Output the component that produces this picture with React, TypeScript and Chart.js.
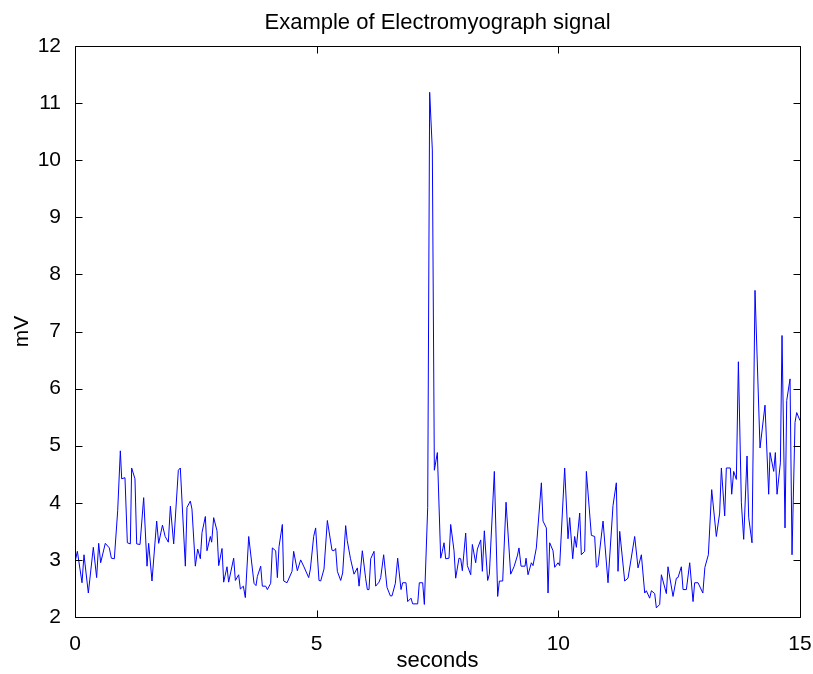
import React, { useEffect, useRef } from "react";
import { Chart, registerables } from "chart.js";

Chart.register(...registerables);

const TITLE = "Example of Electromyograph signal";
const X_LABEL = "seconds";
const Y_LABEL = "mV";
const X_TICKS = [0, 5, 10, 15];
const Y_TICKS = [2, 3, 4, 5, 6, 7, 8, 9, 10, 11, 12];

const TIMES = [
  0.0, 0.049, 0.145, 0.186, 0.276, 0.379, 0.448, 0.49, 0.531, 0.627, 0.71, 0.752, 0.814, 0.883, 0.938, 0.966,
  1.034, 1.083, 1.145, 1.172, 1.241, 1.276, 1.345, 1.421, 1.49, 1.524, 1.593, 1.69, 1.731, 1.81, 1.865, 1.931,
  1.973, 2.042, 2.138, 2.179, 2.283, 2.317, 2.386, 2.42, 2.49, 2.538, 2.593, 2.628, 2.697, 2.731, 2.8, 2.828,
  2.869, 2.938, 2.973, 3.042, 3.076, 3.145, 3.179, 3.283, 3.318, 3.386, 3.421, 3.483, 3.524, 3.594, 3.704, 3.745,
  3.773, 3.842, 3.876, 3.945, 3.98, 4.049, 4.083, 4.152, 4.187, 4.221, 4.29, 4.318, 4.387, 4.49, 4.524, 4.6,
  4.669, 4.731, 4.835, 4.87, 4.938, 4.979, 5.048, 5.083, 5.152, 5.221, 5.317, 5.359, 5.393, 5.428, 5.497, 5.538,
  5.6, 5.632, 5.7, 5.773, 5.842, 5.877, 5.945, 6.014, 6.049, 6.083, 6.118, 6.187, 6.221, 6.29, 6.325, 6.386,
  6.455, 6.524, 6.559, 6.628, 6.676, 6.745, 6.779, 6.848, 6.883, 6.952, 6.986, 7.09, 7.124, 7.193, 7.228, 7.297,
  7.338, 7.393, 7.435, 7.497, 7.566, 7.6, 7.635, 7.669, 7.738, 7.773, 7.842, 7.876, 7.945, 7.98, 8.014, 8.083,
  8.118, 8.187, 8.221, 8.29, 8.325, 8.394, 8.428, 8.469, 8.538, 8.573, 8.676, 8.745, 8.78, 8.849, 8.918, 9.014,
  9.083, 9.152, 9.186, 9.228, 9.311, 9.332, 9.373, 9.442, 9.476, 9.545, 9.649, 9.683, 9.752, 9.787, 9.821, 9.89,
  9.925, 9.994, 10.028, 10.131, 10.2, 10.235, 10.297, 10.338, 10.373, 10.442, 10.476, 10.545, 10.58, 10.683, 10.752, 10.787,
  10.821, 10.925, 11.028, 11.131, 11.2, 11.235, 11.27, 11.373, 11.442, 11.58, 11.649, 11.718, 11.787, 11.821, 11.89, 11.925,
  11.994, 12.028, 12.097, 12.132, 12.235, 12.269, 12.373, 12.442, 12.476, 12.545, 12.58, 12.649, 12.718, 12.787, 12.821, 12.89,
  12.99, 13.032, 13.104, 13.173, 13.269, 13.338, 13.373, 13.442, 13.476, 13.559, 13.587, 13.628, 13.683, 13.725, 13.787, 13.835,
  13.904, 13.939, 14.007, 14.069, 14.173, 14.276, 14.352, 14.38, 14.456, 14.49, 14.525, 14.594, 14.628, 14.69, 14.725, 14.794,
  14.835, 14.897, 14.932, 15.0,
];

const MILLIVOLTS = [
  2.96, 3.15, 2.6, 3.09, 2.42, 3.22, 2.69, 3.29, 2.95, 3.29, 3.21, 3.03, 3.02, 3.86, 4.91, 4.42,
  4.44, 3.3, 3.28, 4.61, 4.42, 3.28, 3.27, 4.09, 2.89, 3.29, 2.63, 3.68, 3.29, 3.61, 3.41, 3.31,
  3.94, 3.28, 4.57, 4.61, 2.89, 3.92, 4.03, 3.89, 2.89, 3.19, 3.02, 3.48, 3.76, 3.16, 3.41, 3.31,
  3.74, 3.51, 2.9, 3.2, 2.61, 2.88, 2.61, 3.03, 2.64, 2.74, 2.49, 2.54, 2.34, 3.41, 2.59, 2.55,
  2.71, 2.89, 2.54, 2.54, 2.48, 2.59, 3.21, 3.16, 2.69, 3.23, 3.62, 2.63, 2.6, 2.8, 3.15, 2.81,
  3.0, 2.89, 2.69, 2.84, 3.41, 3.56, 2.64, 2.63, 2.84, 3.69, 3.17, 3.16, 3.2, 2.8, 2.64, 2.77,
  3.6, 3.34, 3.02, 2.75, 2.86, 2.54, 3.16, 2.67, 2.48, 2.48, 3.02, 3.15, 2.54, 2.61, 2.69, 3.09,
  2.52, 2.37, 2.37, 2.59, 3.03, 2.48, 2.6, 2.6, 2.27, 2.33, 2.23, 2.23, 2.6, 2.6, 2.22, 3.92,
  11.19, 10.18, 4.57, 4.88, 3.03, 3.15, 3.3, 3.02, 3.03, 3.62, 3.16, 2.68, 3.03, 3.02, 2.81, 3.47,
  2.9, 2.74, 3.27, 2.95, 3.19, 3.35, 2.8, 3.51, 2.64, 2.75, 4.55, 2.36, 2.63, 2.63, 4.01, 2.75,
  2.88, 3.07, 3.21, 2.89, 2.89, 3.03, 2.74, 2.95, 2.9, 3.21, 4.35, 3.68, 3.56, 2.42, 3.3, 3.16,
  2.87, 2.95, 2.9, 4.61, 3.37, 3.74, 3.02, 3.41, 3.22, 3.82, 3.09, 3.15, 4.55, 3.43, 3.41, 2.87,
  2.9, 3.68, 2.6, 3.95, 4.35, 2.8, 3.5, 2.63, 2.68, 3.41, 2.86, 3.09, 2.42, 2.46, 2.33, 2.46,
  2.41, 2.16, 2.22, 2.74, 2.41, 2.88, 2.36, 2.68, 2.69, 2.88, 2.48, 2.48, 2.95, 2.27, 2.6, 2.6,
  2.42, 2.87, 3.09, 4.23, 3.41, 3.82, 4.61, 3.77, 4.61, 4.61, 4.15, 4.55, 4.41, 6.47, 4.0, 3.36,
  4.82, 3.74, 3.3, 7.72, 4.96, 5.71, 4.15, 4.88, 4.55, 4.88, 4.15, 4.7, 6.93, 3.56, 5.79, 6.17,
  3.09, 5.41, 5.58, 5.44,
];

const FONT = "'Liberation Sans', Arial, Helvetica, sans-serif";

const framePlugin = {
  id: "matlabFrame",
  afterDraw(chart: any) {
    const { ctx, chartArea, scales } = chart;
    const l = Math.round(chartArea.left) + 0.5;
    const r = Math.round(chartArea.right) + 0.5;
    const t = Math.round(chartArea.top) + 0.5;
    const b = Math.round(chartArea.bottom) + 0.5;
    const tick = 7;
    ctx.save();
    ctx.strokeStyle = "#000";
    ctx.lineWidth = 1;
    ctx.beginPath();
    ctx.rect(l, t, r - l, b - t);
    for (const v of X_TICKS) {
      const px = Math.round(scales.x.getPixelForValue(v)) + 0.5;
      ctx.moveTo(px, b);
      ctx.lineTo(px, b - tick);
      ctx.moveTo(px, t);
      ctx.lineTo(px, t + tick);
    }
    for (const v of Y_TICKS) {
      const py = Math.round(scales.y.getPixelForValue(v)) + 0.5;
      ctx.moveTo(l, py);
      ctx.lineTo(l + tick, py);
      ctx.moveTo(r, py);
      ctx.lineTo(r - tick, py);
    }
    ctx.stroke();
    // title centred over the plot area, as MATLAB does
    ctx.fillStyle = "#000";
    ctx.font = `22px ${FONT}`;
    ctx.textAlign = "center";
    ctx.textBaseline = "middle";
    ctx.fillText(TITLE, (chartArea.left + chartArea.right) / 2, 23);
    ctx.restore();
  },
};

export default function App() {
  const ref = useRef<HTMLCanvasElement | null>(null);

  useEffect(() => {
    if (!ref.current) return;
    const points = TIMES.map((t, i) => ({ x: t, y: MILLIVOLTS[i] }));
    const chart = new Chart(ref.current, {
      type: "line",
      data: {
        datasets: [
          {
            data: points,
            borderColor: "#0000ff",
            borderWidth: 1,
            pointRadius: 0,
            tension: 0,
            fill: false,
          },
        ],
      },
      options: {
        animation: false,
        responsive: false,
        devicePixelRatio: 1,
        layout: { padding: { left: 0, right: 13, top: 46, bottom: 0 } },
        plugins: {
          legend: { display: false },
          tooltip: { enabled: false },
          title: { display: false },
        },
        scales: {
          x: {
            type: "linear",
            min: 0,
            max: 15,
            grid: { display: false },
            border: { display: false },
            afterBuildTicks: (s: any) => {
              s.ticks = X_TICKS.map((v) => ({ value: v }));
            },
            afterFit: (s: any) => {
              s.height = 57;
              s.paddingLeft = 0;
              s.paddingRight = 0;
            },
            ticks: {
              color: "#000",
              padding: 7,
              maxRotation: 0,
              font: { family: FONT, size: 21 },
            },
            title: {
              display: true,
              text: X_LABEL,
              color: "#000",
              font: { family: FONT, size: 22 },
              padding: { top: 0, bottom: 0 },
            },
          },
          y: {
            type: "linear",
            min: 2,
            max: 12,
            grid: { display: false },
            border: { display: false },
            afterBuildTicks: (s: any) => {
              s.ticks = Y_TICKS.map((v) => ({ value: v }));
            },
            afterFit: (s: any) => {
              s.width = 75;
              s.paddingTop = 0;
              s.paddingBottom = 0;
            },
            ticks: {
              color: "#000",
              padding: 6,
              font: { family: FONT, size: 21 },
            },
            title: {
              display: true,
              text: Y_LABEL,
              color: "#000",
              font: { family: FONT, size: 21 },
              padding: { top: 10, bottom: 0 },
            },
          },
        },
      },
      plugins: [framePlugin],
    });
    return () => chart.destroy();
  }, []);

  return (
    <div style={{ position: "absolute", left: 0, top: 0, width: 813, height: 674, background: "#fff" }}>
      <canvas ref={ref} width={813} height={674} />
    </div>
  );
}
